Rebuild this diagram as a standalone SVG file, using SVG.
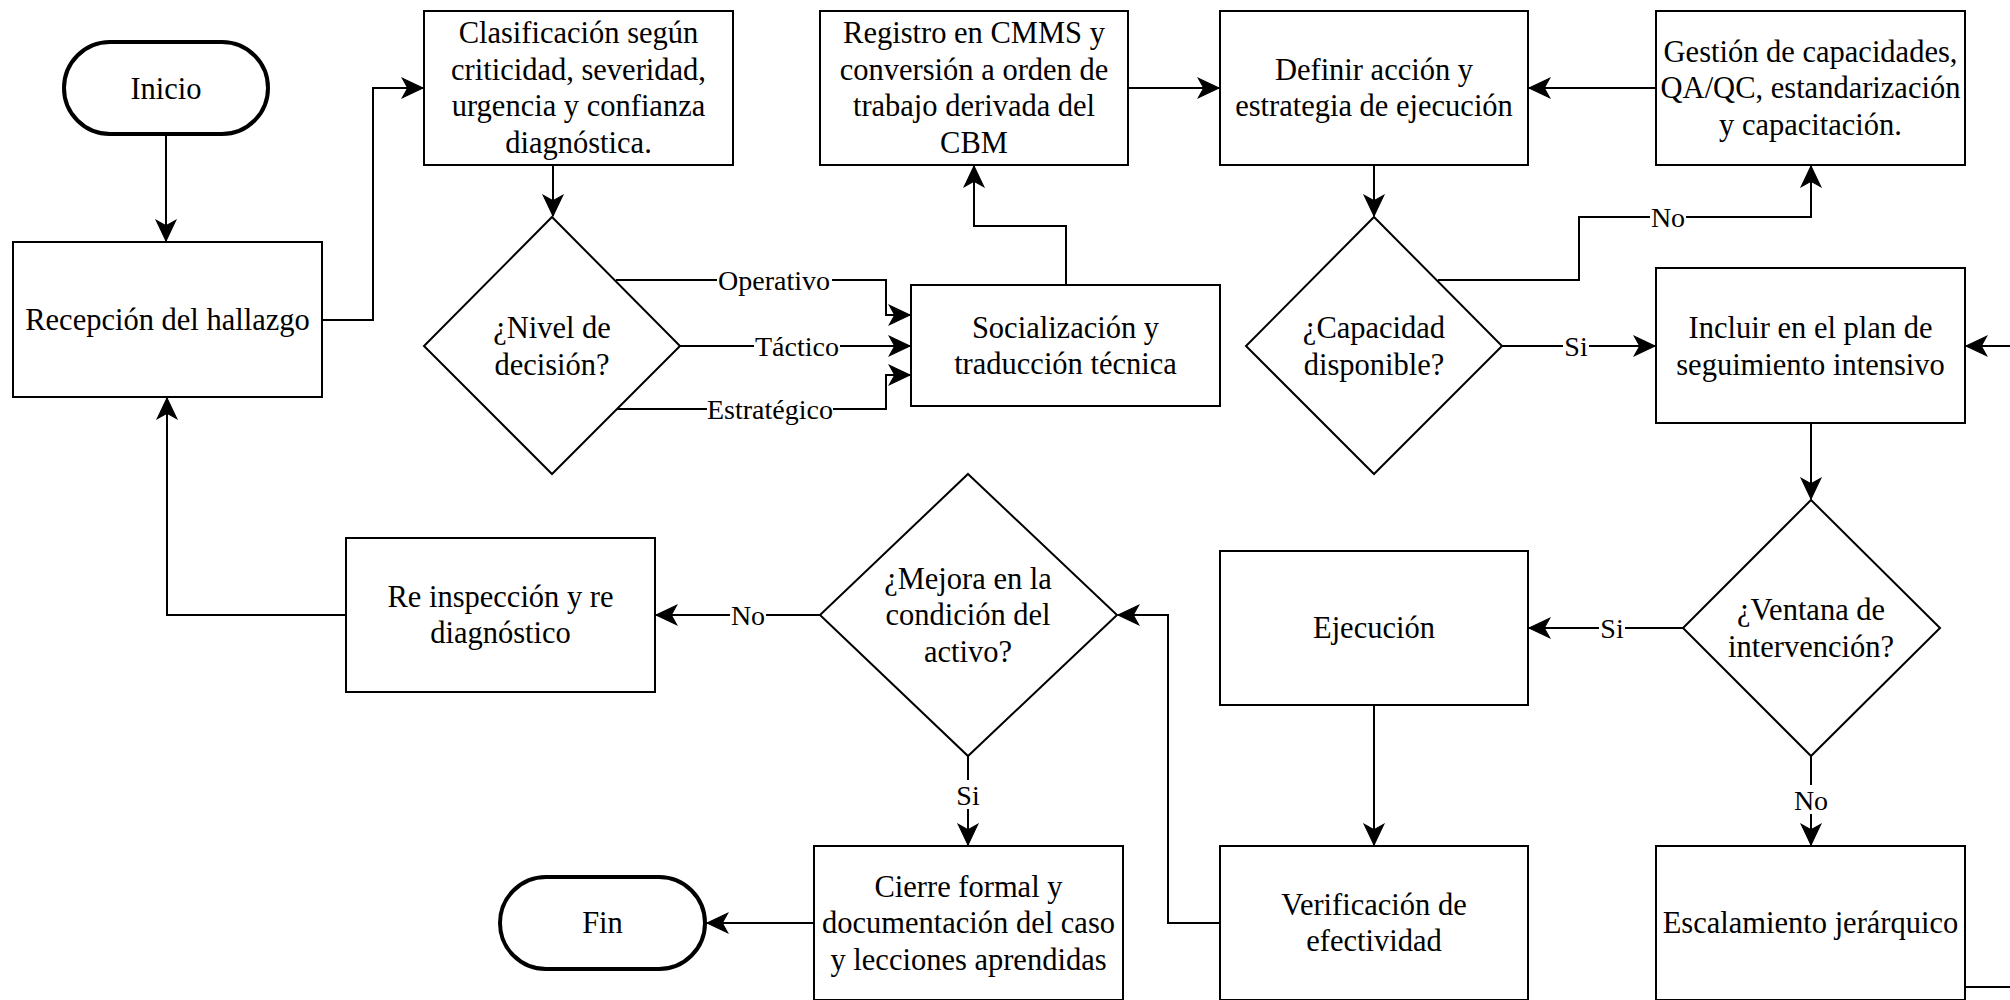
<svg xmlns="http://www.w3.org/2000/svg" width="2010" height="1000" viewBox="0 0 2010 1000">
<defs>
<marker id="arr" markerUnits="userSpaceOnUse" markerWidth="24" markerHeight="24" viewBox="-20 -10 22 20" refX="0" refY="0" orient="auto">
<path d="M0,0 L-19,-9 L-14,0 L-19,9 Z" fill="#000" stroke="#000" stroke-width="1" stroke-linejoin="miter"/>
</marker>
</defs>
<style>
.box{fill:#fff;stroke:#000;stroke-width:2}
.term{fill:#fff;stroke:#000;stroke-width:4}
.t{font-family:"Liberation Serif","Times New Roman",serif;font-size:30.5px;fill:#000;text-anchor:middle}
.lb{font-family:"Liberation Serif","Times New Roman",serif;font-size:28px;fill:#000;text-anchor:middle}
.c{fill:none;stroke:#000;stroke-width:2}
.ca{fill:none;stroke:#000;stroke-width:2;marker-end:url(#arr)}
.bg{fill:#fff;stroke:none}
</style>
<rect width="2010" height="1000" fill="#fff"/>
<g id="connectors">
<path class="ca" d="M166,134 L166,241"/>
<path class="ca" d="M322,320 L373,320 L373,88 L423,88"/>
<path class="ca" d="M553,165 L553,216"/>
<path class="ca" d="M616,280 L886,280 L886,315 L910,315"/>
<path class="ca" d="M680,346 L910,346"/>
<path class="ca" d="M616,409 L886,409 L886,375 L910,375"/>
<path class="ca" d="M1066,285 L1066,226 L974,226 L974,166"/>
<path class="ca" d="M1128,88 L1219,88"/>
<path class="ca" d="M1656,88 L1529,88"/>
<path class="ca" d="M1374,165 L1374,216"/>
<path class="ca" d="M1438,280 L1579,280 L1579,217 L1811,217 L1811,166"/>
<path class="ca" d="M1502,346 L1655,346"/>
<path class="ca" d="M1811,423 L1811,499"/>
<path class="ca" d="M1683,628 L1529,628"/>
<path class="ca" d="M1811,755 L1811,845"/>
<path class="ca" d="M1965,987 L2040,987 L2040,346 L1966,346"/>
<path class="ca" d="M1374,705 L1374,845"/>
<path class="ca" d="M1219,923 L1168,923 L1168,615 L1118,615"/>
<path class="ca" d="M820,615 L656,615"/>
<path class="ca" d="M968,756 L968,845"/>
<path class="ca" d="M814,923 L707,923"/>
<path class="ca" d="M346,615 L167,615 L167,398"/>
<rect class="bg" x="717" y="265" width="115" height="29"/>
<text class="lb" x="774" y="289.5">Operativo</text>
<rect class="bg" x="754" y="331" width="86" height="29"/>
<text class="lb" x="797" y="355.5">Táctico</text>
<rect class="bg" x="707" y="394" width="126" height="29"/>
<text class="lb" x="770" y="418.5">Estratégico</text>
<rect class="bg" x="1650" y="202" width="36" height="29"/>
<text class="lb" x="1668" y="226.5">No</text>
<rect class="bg" x="1563" y="331" width="26" height="29"/>
<text class="lb" x="1576" y="355.5">Si</text>
<rect class="bg" x="1599" y="613" width="26" height="29"/>
<text class="lb" x="1612" y="637.5">Si</text>
<rect class="bg" x="1793" y="785" width="36" height="29"/>
<text class="lb" x="1811" y="809.5">No</text>
<rect class="bg" x="730" y="600" width="36" height="29"/>
<text class="lb" x="748" y="624.5">No</text>
<rect class="bg" x="955" y="780" width="26" height="29"/>
<text class="lb" x="968" y="804.5">Si</text>
</g>
<g id="inicio">
<rect class="term" x="64" y="42" width="204" height="92" rx="46" ry="46"/>
<text class="t" x="166" y="99">Inicio</text>
</g>
<g id="recepcion">
<rect class="box" x="13" y="242" width="309" height="155"/>
<text class="t" x="167.5" y="330">Recepción del hallazgo</text>
</g>
<g id="clasificacion">
<rect class="box" x="424" y="11" width="309" height="154"/>
<text class="t" x="578.5" y="43">Clasificación según</text>
<text class="t" x="578.5" y="79.5">criticidad, severidad,</text>
<text class="t" x="578.5" y="116">urgencia y confianza</text>
<text class="t" x="578.5" y="152.5">diagnóstica.</text>
</g>
<g id="registro">
<rect class="box" x="820" y="11" width="308" height="154"/>
<text class="t" x="974" y="43">Registro en CMMS y</text>
<text class="t" x="974" y="79.5">conversión a orden de</text>
<text class="t" x="974" y="116">trabajo derivada del</text>
<text class="t" x="974" y="152.5">CBM</text>
</g>
<g id="definir">
<rect class="box" x="1220" y="11" width="308" height="154"/>
<text class="t" x="1374" y="79.5">Definir acción y</text>
<text class="t" x="1374" y="116">estrategia de ejecución</text>
</g>
<g id="gestion">
<rect class="box" x="1656" y="11" width="309" height="154"/>
<text class="t" x="1810.5" y="61.5">Gestión de capacidades,</text>
<text class="t" x="1810.5" y="98">QA/QC, estandarización</text>
<text class="t" x="1810.5" y="134.5">y capacitación.</text>
</g>
<g id="nivel">
<polygon class="box" points="552,217 680,346 552,474 424,346"/>
<text class="t" x="552" y="338">¿Nivel de</text>
<text class="t" x="552" y="374.5">decisión?</text>
</g>
<g id="socializacion">
<rect class="box" x="911" y="285" width="309" height="121"/>
<text class="t" x="1065.5" y="337.5">Socialización y</text>
<text class="t" x="1065.5" y="374">traducción técnica</text>
</g>
<g id="capacidad">
<polygon class="box" points="1374,217 1502,346 1374,474 1246,346"/>
<text class="t" x="1374" y="338">¿Capacidad</text>
<text class="t" x="1374" y="374.5">disponible?</text>
</g>
<g id="incluir">
<rect class="box" x="1656" y="268" width="309" height="155"/>
<text class="t" x="1810.5" y="338">Incluir en el plan de</text>
<text class="t" x="1810.5" y="374.5">seguimiento intensivo</text>
</g>
<g id="ventana">
<polygon class="box" points="1811,500 1940,628 1811,756 1683,628"/>
<text class="t" x="1811" y="620">¿Ventana de</text>
<text class="t" x="1811" y="656.5">intervención?</text>
</g>
<g id="ejecucion">
<rect class="box" x="1220" y="551" width="308" height="154"/>
<text class="t" x="1374" y="638">Ejecución</text>
</g>
<g id="mejora">
<polygon class="box" points="968,474 1117,615 968,756 820,615"/>
<text class="t" x="968" y="588.5">¿Mejora en la</text>
<text class="t" x="968" y="625">condición del</text>
<text class="t" x="968" y="661.5">activo?</text>
</g>
<g id="reinspeccion">
<rect class="box" x="346" y="538" width="309" height="154"/>
<text class="t" x="500.5" y="606.5">Re inspección y re</text>
<text class="t" x="500.5" y="643">diagnóstico</text>
</g>
<g id="cierre">
<rect class="box" x="814" y="846" width="309" height="154"/>
<text class="t" x="968.5" y="896.5">Cierre formal y</text>
<text class="t" x="968.5" y="933">documentación del caso</text>
<text class="t" x="968.5" y="969.5">y lecciones aprendidas</text>
</g>
<g id="verificacion">
<rect class="box" x="1220" y="846" width="308" height="154"/>
<text class="t" x="1374" y="914.5">Verificación de</text>
<text class="t" x="1374" y="951">efectividad</text>
</g>
<g id="escalamiento">
<rect class="box" x="1656" y="846" width="309" height="154"/>
<text class="t" x="1810.5" y="933">Escalamiento jerárquico</text>
</g>
<g id="fin">
<rect class="term" x="500" y="877" width="205" height="92" rx="46" ry="46"/>
<text class="t" x="602.5" y="933">Fin</text>
</g>
</svg>
